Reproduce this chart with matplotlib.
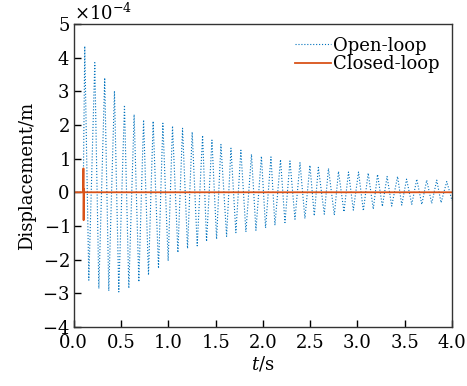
import matplotlib
matplotlib.use("Agg")
import matplotlib.pyplot as plt
from matplotlib.ticker import ScalarFormatter, FormatStrFormatter

# --- data (displacement in units of 1e-4 m) ---
peak_t = [0.116, 0.222, 0.327, 0.430, 0.536, 0.638, 0.738, 0.839, 0.942, 1.044,
          1.150, 1.252, 1.362, 1.461, 1.556, 1.662, 1.767, 1.879, 1.984, 2.085,
          2.186, 2.286, 2.392, 2.497, 2.586, 2.693, 2.799, 2.905, 3.011, 3.113,
          3.212, 3.313, 3.424, 3.519, 3.627, 3.732, 3.838, 3.944]
peak_d = [4.34, 3.85, 3.40, 3.01, 2.59, 2.31, 2.15, 2.11, 2.05, 1.97,
          1.90, 1.79, 1.69, 1.55, 1.42, 1.31, 1.25, 1.13, 1.07, 1.05,
          0.97, 0.93, 0.88, 0.80, 0.74, 0.71, 0.62, 0.60, 0.60, 0.57,
          0.53, 0.47, 0.47, 0.39, 0.39, 0.36, 0.36, 0.32]
trough_t = [0.159, 0.265, 0.370, 0.476, 0.582, 0.688, 0.790, 0.896, 0.998, 1.101,
            1.203, 1.305, 1.404, 1.510, 1.616, 1.714, 1.820, 1.926, 2.028, 2.127,
            2.233, 2.339, 2.444, 2.543, 2.649, 2.755, 2.857, 2.956, 3.062, 3.167,
            3.263, 3.362, 3.468, 3.574, 3.680, 3.785, 3.884, 4.000]
trough_d = [-2.61, -2.86, -2.93, -2.96, -2.85, -2.66, -2.46, -2.26, -2.04, -1.79,
            -1.67, -1.59, -1.46, -1.39, -1.31, -1.20, -1.18, -1.13, -1.06, -0.98,
            -0.90, -0.80, -0.78, -0.70, -0.65, -0.68, -0.58, -0.53, -0.55, -0.50,
            -0.42, -0.41, -0.38, -0.36, -0.36, -0.33, -0.31, -0.25]

closed_t = [0.0, 0.100, 0.102, 0.104, 0.107, 0.112, 4.0]
closed_d = [0.0, 0.0, 0.71, -0.83, 0.10, 0.0, 0.0]

# open-loop trace: rest, then alternate peak / trough
open_t = [0.0, 0.100]
open_d = [0.0, 0.0]
for tp, dp, tt, dt in zip(peak_t, peak_d, trough_t, trough_d):
    open_t += [tp, tt]
    open_d += [dp, dt]

plt.rcParams['font.family'] = ['DejaVu Serif']
plt.rcParams['mathtext.fontset'] = 'dejavuserif'
plt.rcParams['font.size'] = 13

fig = plt.figure(figsize=(4.67, 3.86), dpi=100)
ax = fig.add_axes([0.158, 0.153, 0.810, 0.785])

ax.plot(open_t, [v * 1e-4 for v in open_d], linestyle=':', color='#0072BD',
        linewidth=0.8, label='Open-loop')
ax.plot(closed_t, [v * 1e-4 for v in closed_d], linestyle='-', color='#D95319',
        linewidth=1.3, label='Closed-loop')

ax.set_xlim(0, 4.0)
ax.set_ylim(-4e-4, 5e-4)
ax.set_xticks([0.0, 0.5, 1.0, 1.5, 2.0, 2.5, 3.0, 3.5, 4.0])
ax.set_yticks([i * 1e-4 for i in range(-4, 6)])

fmt = ScalarFormatter(useMathText=True)
fmt.set_powerlimits((-3, 3))
ax.yaxis.set_major_formatter(fmt)
ax.xaxis.set_major_formatter(FormatStrFormatter('%.1f'))

ax.tick_params(direction='in', length=5, width=1, top=False, right=False, pad=3)
ax.tick_params(axis='x', pad=5)
for s in ax.spines.values():
    s.set_linewidth(1.0)
    s.set_color('#333333')

ax.set_xlabel('$t$/s', labelpad=2)
ax.set_ylabel('Displacement/m', labelpad=4)

ax.legend(loc='upper right', frameon=False, handlelength=2.0, handletextpad=0.1,
          labelspacing=0.05, borderaxespad=0.3)

fig.savefig('out.png', dpi=100)
